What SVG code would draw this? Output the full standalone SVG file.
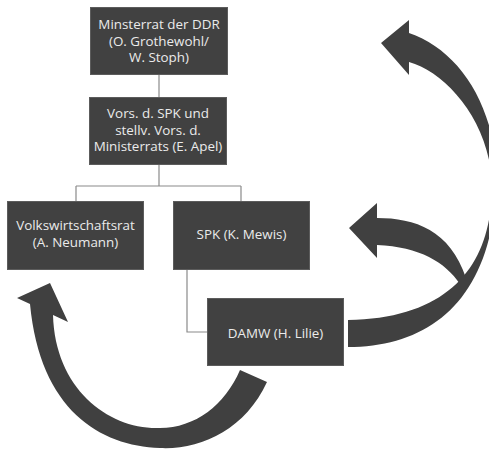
<svg xmlns="http://www.w3.org/2000/svg" width="489" height="450" viewBox="0 0 489 450">
<style>
.box{fill:#414141;stroke:#5c5c5c;stroke-width:1}
.t{font-family:"Open Sans","Liberation Sans",Arial,sans-serif;font-size:13.4px;fill:#ebebeb;text-anchor:middle}
.c{fill:none;stroke:#8a8a8a;stroke-width:1.2}
.ar{fill:#404040}
</style>
<rect width="489" height="450" fill="#ffffff"/>
<g id="connectors">
<path class="c" d="M159,74 V97"/>
<path class="c" d="M159,164 V186 M76,186 H241 M76,186 V201 M241,186 V201"/>
<path class="c" d="M187,269 V332 H207"/>
</g>
<g id="arrows">
<path class="ar" d="M348,347 C430,347 490,300 496,190 C500,110 460,50 409,33 L409,20 L381,43 L409,75 L409,62 C445,72 490,120 492,185 C492,260 455,318 348,320 Z"/>
<path class="ar" d="M377,218 C415,218 450,230 466,278 L460,284 C445,262 420,247 377,245 L377,258 L349,228 L377,203 Z"/>
<path class="ar" d="M240,370 L267,382 C245,430 200,450 160,448 C100,446 40,410 30,304 L17,298 L50,283 L68,322 L53,315 C55,390 110,430 160,428 C195,428 225,405 240,370 Z"/>
</g>
<g id="ministerrat">
<rect class="box" x="90.5" y="7.5" width="137" height="67"/>
<text class="t" x="159" y="29">Minsterrat der DDR</text>
<text class="t" x="159" y="45.5">(O. Grothewohl/</text>
<text class="t" x="159" y="62">W. Stoph)</text>
</g>
<g id="apel">
<rect class="box" x="89.5" y="97.5" width="137" height="67"/>
<text class="t" x="158" y="118">Vors. d. SPK und</text>
<text class="t" x="158" y="134.5">stellv. Vors. d.</text>
<text class="t" x="158" y="151">Ministerrats (E. Apel)</text>
</g>
<g id="volkswirtschaftsrat">
<rect class="box" x="7.5" y="201.5" width="136" height="68"/>
<text class="t" x="75.5" y="230">Volkswirtschaftsrat</text>
<text class="t" x="75.5" y="246.5">(A. Neumann)</text>
</g>
<g id="spk">
<rect class="box" x="173.5" y="201.5" width="136" height="68"/>
<text class="t" x="241.5" y="239">SPK (K. Mewis)</text>
</g>
<g id="damw">
<rect class="box" x="207.5" y="298.5" width="136" height="67"/>
<text class="t" x="275.5" y="338">DAMW (H. Lilie)</text>
</g>
</svg>
